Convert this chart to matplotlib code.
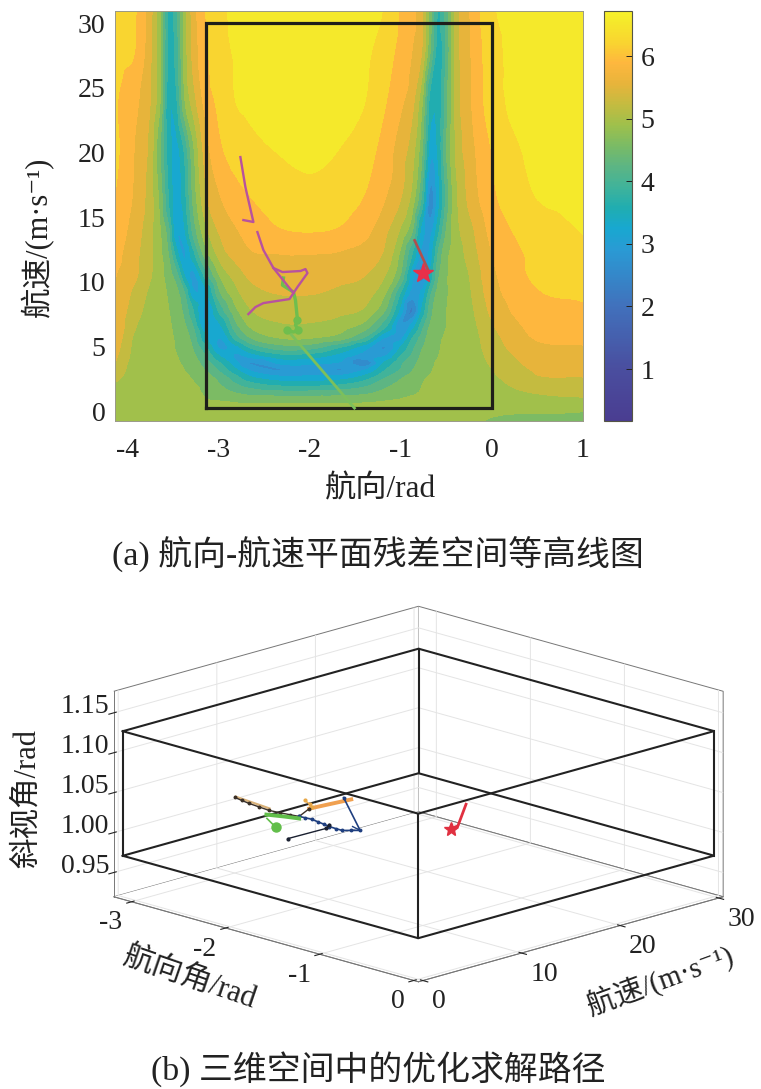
import numpy as np
import matplotlib

matplotlib.use("Agg")
import matplotlib.pyplot as plt
import matplotlib.tri as mtri
from matplotlib.cm import ScalarMappable
from matplotlib.colors import LinearSegmentedColormap, Normalize

FONT = ["Liberation Serif", "Noto Sans CJK SC", "DejaVu Sans"]
W, H = 761, 1089

# residual surface
heading_nodes = [-4.1416, -3.918, -3.753, -3.643, -3.555, -3.467, -3.379, -3.291, -3.148, -2.984, -2.819, -2.654, -2.324, -1.995,
                 -1.665, -1.390, -1.170, -1.005, -0.874, -0.764, -0.676, -0.588, -0.500, -0.390, -0.236, -0.016, 0.423, 1.0]
speed_nodes = [-0.77, 0.23, 0.85, 1.47, 2.09, 2.63, 3.17, 3.71, 4.25, 4.87, 5.65, 6.65, 7.81, 9.13, 10.52, 12.06,
               13.84, 16.32, 20.19, 24.05, 27.92, 30.94]
residual = [
    [4.72, 4.85, 4.85, 4.85, 4.85, 4.85, 4.85, 4.85, 4.85, 4.85, 4.85, 4.85, 4.85, 4.85, 4.85, 4.85, 4.85, 4.85, 4.85, 4.85, 4.85, 4.85, 4.85, 4.82, 4.78, 4.72, 4.65, 4.55],
    [4.90, 4.87, 4.87, 4.87, 4.87, 4.87, 4.87, 4.86, 4.86, 4.86, 4.86, 4.86, 4.86, 4.86, 4.86, 4.86, 4.86, 4.86, 4.86, 4.86, 4.86, 4.86, 4.86, 4.84, 4.80, 4.80, 4.82, 4.82],
    [4.92, 4.86, 4.86, 4.86, 4.85, 4.85, 4.85, 4.84, 4.76, 4.72, 4.66, 4.62, 4.62, 4.62, 4.63, 4.65, 4.72, 4.76, 4.80, 4.82, 4.84, 4.85, 4.85, 4.84, 4.83, 4.86, 4.95, 5.02],
    [4.95, 4.86, 4.86, 4.86, 4.86, 4.85, 4.83, 4.80, 4.70, 4.55, 4.38, 4.25, 4.15, 4.15, 4.20, 4.30, 4.50, 4.62, 4.70, 4.76, 4.80, 4.83, 4.84, 4.84, 4.84, 4.90, 5.08, 5.15],
    [5.05, 4.87, 4.86, 4.85, 4.85, 4.84, 4.80, 4.76, 4.65, 4.40, 4.10, 3.85, 3.62, 3.60, 3.70, 3.95, 4.30, 4.50, 4.65, 4.74, 4.78, 4.82, 4.83, 4.83, 4.85, 4.95, 5.22, 5.30],
    [5.18, 4.88, 4.86, 4.85, 4.84, 4.82, 4.78, 4.72, 4.55, 4.25, 3.85, 3.45, 3.15, 3.15, 3.22, 3.55, 4.05, 4.35, 4.55, 4.70, 4.76, 4.80, 4.82, 4.82, 4.85, 5.00, 5.35, 5.40],
    [5.30, 4.90, 4.86, 4.85, 4.83, 4.80, 4.74, 4.65, 4.40, 4.00, 3.50, 3.05, 2.75, 2.95, 2.75, 3.10, 3.75, 4.10, 4.40, 4.60, 4.72, 4.78, 4.80, 4.80, 4.85, 5.05, 5.40, 5.48],
    [5.40, 4.92, 4.86, 4.85, 4.82, 4.77, 4.70, 4.58, 4.25, 3.75, 3.20, 2.75, 3.15, 3.15, 3.05, 2.55, 3.50, 4.00, 4.30, 4.55, 4.70, 4.76, 4.78, 4.80, 4.86, 5.10, 5.46, 5.56],
    [5.47, 4.95, 4.86, 4.85, 4.82, 4.75, 4.65, 4.50, 4.10, 3.40, 3.05, 3.20, 3.60, 3.55, 3.25, 3.00, 3.10, 3.75, 4.15, 4.50, 4.65, 4.74, 4.78, 4.80, 4.88, 5.15, 5.52, 5.62],
    [5.55, 4.97, 4.86, 4.85, 4.80, 4.72, 4.60, 4.42, 3.85, 3.05, 3.25, 3.75, 4.20, 4.15, 3.70, 3.15, 2.75, 3.45, 4.00, 4.40, 4.60, 4.72, 4.78, 4.80, 4.90, 5.20, 5.62, 5.70],
    [5.65, 5.00, 4.87, 4.85, 4.80, 4.70, 4.55, 4.30, 3.50, 3.10, 3.85, 4.40, 4.75, 4.75, 4.55, 4.00, 3.05, 3.00, 3.75, 4.25, 4.55, 4.70, 4.76, 4.80, 4.92, 5.25, 5.72, 5.80],
    [5.72, 5.10, 4.90, 4.85, 4.78, 4.65, 4.45, 4.10, 3.10, 3.40, 4.30, 4.80, 5.03, 5.03, 4.90, 4.60, 3.85, 2.85, 3.20, 3.95, 4.45, 4.68, 4.74, 4.80, 4.95, 5.35, 5.80, 5.92],
    [5.70, 5.20, 4.95, 4.85, 4.75, 4.60, 4.30, 3.80, 3.05, 3.90, 4.65, 5.05, 5.20, 5.22, 5.15, 5.00, 4.40, 3.30, 2.40, 3.50, 4.25, 4.65, 4.74, 4.80, 5.00, 5.45, 5.92, 6.02],
    [5.72, 5.30, 5.00, 4.85, 4.70, 4.50, 4.10, 3.20, 3.30, 4.40, 4.95, 5.25, 5.42, 5.42, 5.32, 5.20, 4.75, 3.75, 2.95, 3.20, 4.00, 4.55, 4.72, 4.80, 5.05, 5.55, 6.00, 6.10],
    [5.75, 5.45, 5.10, 4.85, 4.55, 4.20, 3.40, 3.00, 3.90, 4.80, 5.20, 5.47, 5.58, 5.62, 5.50, 5.40, 5.07, 4.40, 3.15, 2.60, 3.50, 4.35, 4.70, 4.85, 5.10, 5.62, 6.08, 6.20],
    [5.85, 5.48, 5.12, 4.80, 4.42, 3.60, 3.05, 3.55, 4.55, 5.20, 5.50, 5.68, 5.72, 5.72, 5.68, 5.58, 5.30, 4.65, 3.70, 2.95, 3.20, 4.15, 4.65, 4.90, 5.20, 5.70, 6.10, 6.30],
    [5.95, 5.55, 5.15, 4.75, 4.20, 3.15, 3.35, 4.10, 4.95, 5.45, 5.68, 5.85, 6.02, 6.06, 6.00, 5.80, 5.45, 5.00, 4.40, 3.20, 3.00, 3.70, 4.45, 4.95, 5.30, 5.80, 6.18, 6.40],
    [6.05, 5.65, 5.20, 4.60, 3.75, 3.25, 3.60, 4.40, 5.30, 5.70, 5.90, 6.04, 6.20, 6.28, 6.20, 6.02, 5.72, 5.40, 4.90, 3.90, 2.60, 3.30, 4.20, 5.00, 5.50, 5.95, 6.35, 6.50],
    [6.15, 5.70, 5.25, 4.41, 3.60, 3.30, 3.80, 4.60, 5.55, 6.00, 6.20, 6.30, 6.41, 6.46, 6.38, 6.20, 5.90, 5.55, 5.20, 4.41, 3.20, 3.50, 4.40, 5.15, 5.60, 6.05, 6.45, 6.60],
    [6.10, 5.80, 5.40, 4.72, 3.55, 3.70, 4.70, 5.20, 5.85, 6.15, 6.39, 6.45, 6.52, 6.55, 6.50, 6.39, 6.08, 5.80, 5.50, 4.75, 3.60, 3.55, 4.30, 5.20, 5.70, 6.20, 6.55, 6.62],
    [6.20, 6.05, 5.45, 4.72, 3.65, 3.90, 4.85, 5.45, 5.98, 6.28, 6.42, 6.50, 6.58, 6.60, 6.58, 6.45, 6.22, 5.95, 5.72, 5.35, 4.40, 3.60, 4.15, 5.20, 5.72, 6.22, 6.58, 6.65],
    [6.25, 6.08, 5.50, 4.74, 3.70, 3.95, 4.85, 5.50, 6.06, 6.32, 6.45, 6.52, 6.60, 6.60, 6.60, 6.50, 6.35, 6.03, 5.82, 5.42, 4.50, 3.70, 4.25, 5.25, 5.75, 6.30, 6.60, 6.65],
]
band_levels = [0.12 + 0.33 * i for i in range(21)]

# colour scale stops, residual value and colour
scale_values = [0.17, 1.0, 2.0, 2.9, 3.25, 3.58, 3.9, 4.25, 4.57, 4.9, 5.24, 5.57, 5.9, 6.22, 6.55, 6.72]
scale_colors = ["#4A3D91", "#4A4E9F", "#4171BC", "#2A9AD4", "#18A8D0", "#20ADB0", "#3FB39B", "#5DB583",
                "#7ABB65", "#9EC04C", "#C5BB40", "#E8B43B", "#FEB73E", "#F9D430", "#F5E82B", "#F7F02A"]

# solver paths on the heading-speed plane
pink_a_x = [-2.764, -2.709, -2.621, -2.731]
pink_a_y = [19.64, 17.32, 14.62, 14.77]
pink_b_x = [-2.577, -2.511, -2.401, -2.302, -2.104, -2.049, -2.027, -2.137, -2.225, -2.511, -2.599, -2.676]
pink_b_y = [13.84, 12.45, 11.06, 10.75, 10.83, 10.98, 10.67, 9.59, 8.66, 8.35, 8.04, 7.50]
pink_c_x = [-2.401, -2.181]
pink_c_y = [11.06, 9.13]
green_x = [-2.291, -2.302, -2.181, -2.159, -2.137, -2.159, -2.126, -2.181, -2.247]
green_y = [10.29, 9.74, 9.20, 8.58, 7.04, 6.65, 6.26, 6.11, 6.26]
green_dots_x = [-2.137, -2.126, -2.247]
green_dots_y = [7.04, 6.26, 6.26]
pale_x = [-2.247, -1.511]
pale_y = [6.26, 0.23]
red_x = [-0.85, -0.70, -0.76]
red_y = [13.2, 10.9, 10.7]
star_x = [-0.76]
star_y = [10.7]
box_x = [-3.1416, 0, 0, -3.1416, -3.1416]
box_y = [0.2, 0.2, 30, 30, 0.2]

# paths in heading / speed / squint space
tan3_x = [-2.542, -2.137]
tan3_y = [5.73, 5.30]
tan3_z = [1.045, 1.045]
brown3_x = [-2.533, -2.44, -2.342, -2.22, -2.104, -2.0, -1.913, -1.828, -1.923]
brown3_y = [5.55, 5.36, 5.18, 5.05, 4.93, 5.05, 5.20, 5.36, 7.30]
brown3_z = [1.045, 1.045, 1.045, 1.045, 1.045, 1.045, 1.045, 1.045, 1.045]
orange3_x = [-1.875, -1.923]
orange3_y = [11.09, 7.30]
orange3_z = [1.045, 1.045]
peach3_x = [-2.104, -1.999, -1.932]
peach3_y = [8.56, 8.09, 7.65]
peach3_z = [1.045, 1.045, 1.045]
navy3_x = [-1.951, -1.237, -1.285, -1.332, -1.40, -1.475, -1.55, -1.63, -1.704, -1.77, -1.828]
navy3_y = [11.04, 5.91, 5.45, 4.99, 5.0, 5.05, 5.2, 5.34, 5.48, 5.42, 5.36]
navy3_z = [1.045, 1.045, 1.045, 1.045, 1.045, 1.045, 1.045, 1.045, 1.045, 1.045, 1.045]
navy3b_x = [-1.351, -1.237]
navy3b_y = [6.23, 5.91]
navy3b_z = [1.045, 1.045]
black3_x = [-1.465, -1.456, -1.513]
black3_y = [0.79, 4.55, 5.42]
black3_z = [1.045, 1.045, 1.045]
green3_x = [-2.037, -1.904, -1.789]
green3_y = [4.03, 4.59, 4.99]
green3_z = [1.045, 1.045, 1.045]
green3b_x = [-1.742, -1.961]
green3b_y = [2.18, 3.36]
green3b_z = [1.045, 1.045]
red3_x = [-0.884, -0.741, -0.798]
red3_y = [13.28, 11.09, 10.90]
red3_z = [1.064, 1.049, 1.0445]

cube_x = [-3.1416, 0.0]
cube_y = [0.0, 30.0]
cube_z = [0.971, 1.127]

plt.rcParams["font.family"] = FONT
plt.rcParams["axes.unicode_minus"] = False
plt.rcParams["grid.color"] = "#E4E4E4"
plt.rcParams["grid.linewidth"] = 0.7


def rect_px(left, top, right, bottom):
    return [left / W, 1 - bottom / H, (right - left) / W, (bottom - top) / H]


def label_px(fig, x, y, text, size=20, rotation=0):
    fig.text(x / W, 1 - y / H, text, fontsize=size, rotation=rotation, ha="center", va="center",
             rotation_mode="anchor", color="#222222")


def draw_field(fig):
    ax = fig.add_axes(rect_px(115, 11, 583, 421))
    cmap = LinearSegmentedColormap.from_list(
        "residual", [((v - 0.17) / 6.55, c) for v, c in zip(scale_values, scale_colors)])
    norm = Normalize(0.17, 6.72)
    xx, yy = np.meshgrid(heading_nodes, speed_nodes)
    z = np.array(residual)
    tri = mtri.Triangulation(xx.ravel(), yy.ravel())
    interp = mtri.CubicTriInterpolator(tri, z.ravel(), kind="geom")
    refiner = mtri.UniformTriRefiner(tri)
    fine_tri, fine_z = refiner.refine_field(z.ravel(), triinterpolator=interp, subdiv=3)
    ax.tricontourf(fine_tri, fine_z, levels=band_levels, cmap=cmap, norm=norm, extend="both")

    ax.plot(box_x, box_y, color="#1E1E1A", lw=2.3, solid_joinstyle="miter")
    ax.plot(pale_x, pale_y, color="#7CC05C", lw=2.0)
    ax.plot(green_x, green_y, color="#6FBE4E", lw=2.4)
    ax.plot(green_dots_x, green_dots_y, "o", color="#6FBE4E", ms=5)
    for px, py in ((pink_a_x, pink_a_y), (pink_b_x, pink_b_y), (pink_c_x, pink_c_y)):
        ax.plot(px, py, color="#B8529E", lw=1.7)
    ax.plot(red_x, red_y, color="#B0504E", lw=1.9)
    ax.plot(star_x, star_y, "*", color="#E8304A", ms=15, mec="#E8304A")

    ax.set_xlim(-4.1416, 1)
    ax.set_ylim(-0.77, 30.94)
    ax.set_xticks([-4, -3, -2, -1, 0, 1])
    ax.set_yticks([0, 5, 10, 15, 20, 25, 30])
    ax.tick_params(labelsize=20, length=0, colors="#222222")
    ax.tick_params(axis="x", pad=12)
    ax.tick_params(axis="y", pad=7)
    for spine in ax.spines.values():
        spine.set_color("#999988")
        spine.set_linewidth(0.7)

    cax = fig.add_axes(rect_px(604, 11, 632, 421))
    bar = fig.colorbar(ScalarMappable(norm, cmap), cax=cax)
    bar.set_ticks([1, 2, 3, 4, 5, 6])
    bar.ax.tick_params(labelsize=20, direction="in", length=4, width=0.7, pad=6, colors="#222222")
    bar.outline.set_edgecolor("#555544")
    bar.outline.set_linewidth(0.8)


def draw_space(fig):
    ax = fig.add_axes(rect_px(96.5, 489, 723.5, 1116), projection="3d", computed_zorder=False)
    ax.set_proj_type("ortho")
    ax.view_init(elev=16.2, azim=-45)
    ax.set_box_aspect((1, 1, 0.4966))
    ax.patch.set_alpha(0)
    ax.set_xlim(-3.19, 0.05, view_margin=0)
    ax.set_ylim(-0.45, 30.45, view_margin=0)
    ax.set_zlim(0.9196, 1.177, view_margin=0)
    ax.set_xticks([-3, -2, -1, 0])
    ax.set_yticks([0, 10, 20, 30])
    ax.set_zticks([0.95, 1.0, 1.05, 1.1, 1.15])
    ax.set_zticklabels(["0.95", "1.00", "1.05", "1.10", "1.15"])
    ax.zaxis.set_ticks_position("lower")
    ax.tick_params(labelsize=20, pad=-1, colors="#222222")
    ax.tick_params(axis="z", pad=3)
    for tick in ax.xaxis.get_major_ticks():
        tick.label1.set_ha("right")
    for tick in ax.yaxis.get_major_ticks():
        tick.label1.set_ha("left")
    for tick in ax.zaxis.get_major_ticks():
        tick.label1.set_va("baseline")
    for axis in (ax.xaxis, ax.yaxis, ax.zaxis):
        axis.set_pane_color((1, 1, 1, 1))
        axis.pane.set_edgecolor("#777777")
        axis.pane.set_linewidth(0.7)
        axis.line.set_color("#777777")
        axis.line.set_linewidth(0.7)

    # black bounding cube, twelve edges
    x0, x1 = cube_x
    y0, y1 = cube_y
    z0, z1 = cube_z
    for zv in (z0, z1):
        ax.plot([x0, x1, x1, x0, x0], [y0, y0, y1, y1, y0], [zv] * 5, color="#222222", lw=1.5, zorder=3)
    for xv, yv in ((x0, y0), (x1, y0), (x1, y1), (x0, y1)):
        ax.plot([xv, xv], [yv, yv], [z0, z1], color="#222222", lw=1.5, zorder=3)

    ax.plot(tan3_x, tan3_y, tan3_z, color="#D9B27A", lw=1.6, zorder=4)
    ax.plot(orange3_x, orange3_y, orange3_z, color="#F0A050", lw=2.8, zorder=4)
    ax.plot(peach3_x, peach3_y, peach3_z, color="#E8A848", lw=1.0, marker="o", ms=2, zorder=4)
    ax.plot(brown3_x, brown3_y, brown3_z, color="#3A3028", lw=1.0, marker="o", ms=1.8, zorder=5)
    ax.plot(navy3_x, navy3_y, navy3_z, color="#1F3F80", lw=1.2, marker="o", ms=1.8, zorder=5)
    ax.plot(navy3b_x, navy3b_y, navy3b_z, color="#1F3F80", lw=1.0, zorder=5)
    ax.plot(black3_x, black3_y, black3_z, color="#1A2030", lw=1.0, marker="o", ms=2, zorder=5)
    ax.plot(green3_x, green3_y, green3_z, color="#62BE4A", lw=2.8, zorder=6)
    ax.plot(green3b_x, green3b_y, green3b_z, color="#62BE4A", lw=1.2, zorder=6)
    ax.plot(green3b_x[:1], green3b_y[:1], green3b_z[:1], "o", color="#62BE4A", ms=6.5, zorder=6)
    ax.plot(red3_x, red3_y, red3_z, color="#E03040", lw=2.0, zorder=6)
    ax.plot(red3_x[-1:], red3_y[-1:], red3_z[-1:], "*", color="#E03040", ms=10, zorder=7)


def main():
    fig = plt.figure(figsize=(W / 100, H / 100), dpi=100)
    draw_field(fig)
    draw_space(fig)

    label_px(fig, 38, 237, "航速/(m·s⁻¹)", size=22, rotation=90)
    label_px(fig, 380, 490, "航向/rad", size=22.5)
    label_px(fig, 378, 554, "(a) 航向-航速平面残差空间等高线图", size=24.4)
    label_px(fig, 27, 799, "斜视角/rad", size=22, rotation=90)
    label_px(fig, 190, 978, "航向角/rad", size=22, rotation=-19)
    label_px(fig, 660, 980, "航速/(m·s⁻¹)", size=21, rotation=20)
    label_px(fig, 378, 1069, "(b) 三维空间中的优化求解路径", size=24.4)

    fig.savefig("out.png", dpi=100)
    plt.close(fig)


if __name__ == "__main__":
    main()
